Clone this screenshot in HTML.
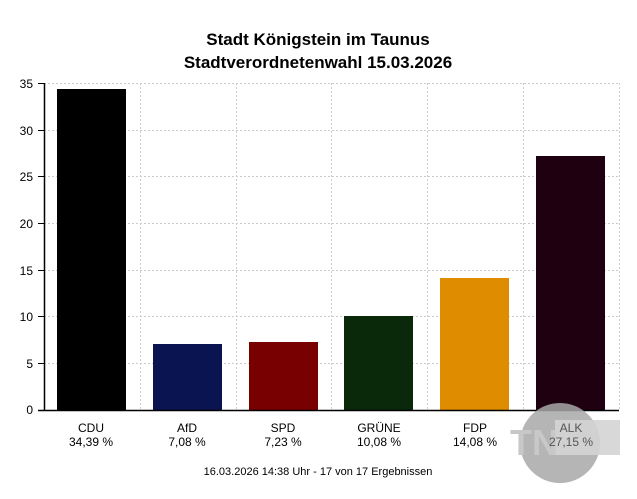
<!DOCTYPE html>
<html><head><meta charset="utf-8"><style>
body{margin:0;background:#fff;}
svg{display:block;font-family:"Liberation Sans",sans-serif;}
</style></head><body>
<svg width="637" height="499" viewBox="0 0 637 499">
<rect width="637" height="499" fill="#fff"/>
<text x="318" y="45" text-anchor="middle" font-size="17" font-weight="bold">Stadt Königstein im Taunus</text>
<text x="318" y="68" text-anchor="middle" font-size="17" font-weight="bold">Stadtverordnetenwahl 15.03.2026</text>
<g stroke="#ccc" stroke-dasharray="2,2" stroke-width="1">
<line x1="44" y1="83.5" x2="619" y2="83.5"/>
<line x1="44" y1="130.5" x2="619" y2="130.5"/>
<line x1="44" y1="176.5" x2="619" y2="176.5"/>
<line x1="44" y1="223.5" x2="619" y2="223.5"/>
<line x1="44" y1="270.5" x2="619" y2="270.5"/>
<line x1="44" y1="316.5" x2="619" y2="316.5"/>
<line x1="44" y1="363.5" x2="619" y2="363.5"/>
<line x1="140.5" y1="83" x2="140.5" y2="410"/>
<line x1="236.5" y1="83" x2="236.5" y2="410"/>
<line x1="331.5" y1="83" x2="331.5" y2="410"/>
<line x1="427.5" y1="83" x2="427.5" y2="410"/>
<line x1="523.5" y1="83" x2="523.5" y2="410"/>
<line x1="619.5" y1="83" x2="619.5" y2="410"/>
</g>
<g font-size="12" text-anchor="end">
<text x="33" y="88">35</text><text x="33" y="135">30</text><text x="33" y="181">25</text>
<text x="33" y="228">20</text><text x="33" y="275">15</text><text x="33" y="321">10</text>
<text x="33" y="368">5</text><text x="33" y="414">0</text>
</g>
<g stroke="#000"><line x1="38" y1="83.5" x2="44" y2="83.5"/><line x1="38" y1="130.5" x2="44" y2="130.5"/><line x1="38" y1="176.5" x2="44" y2="176.5"/><line x1="38" y1="223.5" x2="44" y2="223.5"/><line x1="38" y1="270.5" x2="44" y2="270.5"/><line x1="38" y1="316.5" x2="44" y2="316.5"/><line x1="38" y1="363.5" x2="44" y2="363.5"/></g>
<rect x="57" y="89" width="69" height="321" fill="#000"/>
<rect x="153" y="344" width="69" height="66" fill="#0a1450"/>
<rect x="249" y="342" width="69" height="68" fill="#780000"/>
<rect x="344" y="316" width="69" height="94" fill="#0a280a"/>
<rect x="440" y="278" width="69" height="132" fill="#e08c00"/>
<rect x="536" y="156" width="69" height="254" fill="#1e0010"/>
<line x1="44.5" y1="83" x2="44.5" y2="411" stroke="#000" stroke-width="1.5"/>
<line x1="38" y1="410.5" x2="619" y2="410.5" stroke="#000" stroke-width="1.5"/>
<g font-size="12" text-anchor="middle">
<text x="91" y="432">CDU</text><text x="91" y="446">34,39 %</text>
<text x="187" y="432">AfD</text><text x="187" y="446">7,08 %</text>
<text x="283" y="432">SPD</text><text x="283" y="446">7,23 %</text>
<text x="379" y="432">GRÜNE</text><text x="379" y="446">10,08 %</text>
<text x="475" y="432">FDP</text><text x="475" y="446">14,08 %</text>
</g>
<circle cx="560" cy="443" r="40" fill="#a8a8a8" opacity="0.85"/>
<rect x="555" y="420" width="65" height="35" fill="#d4d4d4" opacity="0.9"/>
<text x="510" y="455" font-size="36" font-weight="bold" fill="#c8c8c8">TN</text>
<text x="571" y="432" font-size="12" text-anchor="middle" fill="#555">ALK</text>
<text x="571" y="446" font-size="12" text-anchor="middle" fill="#555">27,15 %</text>
<text x="318" y="475" font-size="11" text-anchor="middle">16.03.2026 14:38 Uhr - 17 von 17 Ergebnissen</text>
</svg>
</body></html>
